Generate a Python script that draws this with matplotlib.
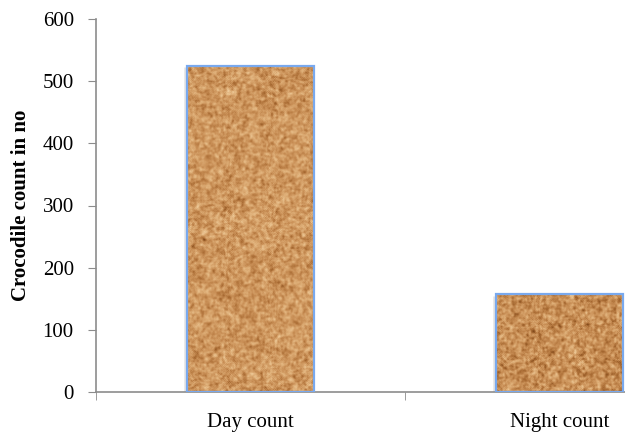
import numpy as np
import matplotlib
matplotlib.use("Agg")
import matplotlib.pyplot as plt
from matplotlib.colors import LinearSegmentedColormap

# data
categories = ["Day count", "Night count"]
counts = [525, 157]
yticks = [0, 100, 200, 300, 400, 500, 600]

plt.rcParams['font.family'] = ['Liberation Serif', 'DejaVu Serif']

fig = plt.figure(figsize=(6.25, 4.32), dpi=100)
ax = fig.add_axes([96 / 625, 40 / 432, 618 / 625, 373 / 432])

x = np.arange(len(categories))
bars = ax.bar(x, counts, width=0.41, color='none', edgecolor='#79a9ee',
              linewidth=1.6, zorder=3)

# cork-like texture for the bar fill
cork = LinearSegmentedColormap.from_list(
    'cork', ['#7a4418', '#a86a32', '#c98f56', '#e0b17a', '#f0cfa0'])
rng = np.random.default_rng(3)


def blur(a, n=1):
    for _ in range(n):
        a = (a + np.roll(a, 1, 0) + np.roll(a, -1, 0)
             + np.roll(a, 1, 1) + np.roll(a, -1, 1)) / 5.0
    return a


for b in bars:
    h_px = int(b.get_height() * 0.62) + 4
    w_px = 130
    fine = blur(rng.random((h_px, w_px)), 1)
    coarse = blur(rng.random((h_px, w_px)), 4)
    tex = 0.5 * fine + 1.0 * coarse
    tex = (tex - tex.min()) / (tex.max() - tex.min())
    x0 = b.get_x()
    im = ax.imshow(tex, cmap=cork, extent=(x0, x0 + b.get_width(), 0, b.get_height()),
                   aspect='auto', interpolation='bilinear', zorder=2)
    im.set_clip_path(b)
    # soft shadow on the left edge
    ax.plot([x0 - 0.008, x0 - 0.008], [0, b.get_height() - 3], color='#e4e4e4',
            lw=1.8, zorder=1.5, solid_capstyle='butt')

ax.set_xlim(-0.5, 1.5)
ax.set_ylim(0, 600)
ax.set_yticks(yticks)
ax.set_xticks(x)
ax.set_xticklabels(categories)
ax.set_xticks([-0.5, 0.5, 1.5], minor=True)
ax.tick_params(axis='x', which='major', length=0, pad=15, labelsize=15)
ax.tick_params(axis='x', which='minor', length=6, color='#8c8c8c', direction='out')
ax.tick_params(axis='y', length=6, color='#8c8c8c', pad=10, labelsize=15,
               direction='out')

for side in ['top', 'right']:
    ax.spines[side].set_visible(False)
for side in ['left', 'bottom']:
    ax.spines[side].set_color('#8c8c8c')
    ax.spines[side].set_linewidth(1.2)

ax.set_ylabel("Crocodile count in no", fontsize=15, fontweight='bold', labelpad=8)

fig.savefig("out.png", dpi=100)
